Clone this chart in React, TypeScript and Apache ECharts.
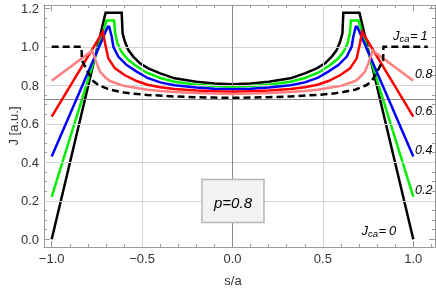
import React, { useEffect, useRef } from 'react';
import * as echarts from 'echarts';

// ---- axis ranges & ticks ----
const X_MIN = -1.0426;
const X_MAX = 1.12;
const Y_MIN = -0.04;
const Y_MAX = 1.217;
const xMajor = [-1.0, -0.5, 0.0, 0.5, 1.0];
const xMinor = [-0.9, -0.8, -0.7, -0.6, -0.4, -0.3, -0.2, -0.1, 0.1, 0.2, 0.3, 0.4, 0.6, 0.7, 0.8, 0.9, 1.1];
const yMajor = [0.0, 0.2, 0.4, 0.6, 0.8, 1.0, 1.2];
const yMinor = [0.05, 0.1, 0.15, 0.25, 0.3, 0.35, 0.45, 0.5, 0.55, 0.65, 0.7, 0.75, 0.85, 0.9, 0.95, 1.05, 1.1, 1.15];
const gridXs = [-0.5, 0.5];
const gridYs = [0.2, 0.4, 0.6, 0.8, 1.0];
const axisOriginX = 0.0;
const axisOriginY = 0.732;

// ---- curves: [s/a, J] ----
const curveJca0 = [
  [-1.0, 0.0], [-0.702, 1.177], [-0.613, 1.177], [-0.608, 1.07], [-0.595, 1.026], [-0.576, 0.983],
  [-0.549, 0.949], [-0.512, 0.914], [-0.466, 0.888], [-0.4, 0.862], [-0.32, 0.836], [-0.2, 0.818],
  [-0.1, 0.809], [0.0, 0.805], [0.1, 0.809], [0.2, 0.818], [0.32, 0.836], [0.4, 0.862], [0.466, 0.888],
  [0.512, 0.914], [0.549, 0.949], [0.576, 0.983], [0.595, 1.026], [0.608, 1.07], [0.613, 1.177],
  [0.702, 1.177], [1.0, 0.0],
];
const curveJca02 = [
  [-1.0, 0.221], [-0.697, 1.136], [-0.655, 1.136], [-0.649, 1.07], [-0.637, 1.02], [-0.615, 0.975],
  [-0.58, 0.935], [-0.54, 0.905], [-0.48, 0.868], [-0.4, 0.838], [-0.32, 0.818], [-0.2, 0.803],
  [-0.1, 0.796], [0.0, 0.793], [0.1, 0.796], [0.2, 0.803], [0.32, 0.818], [0.4, 0.838], [0.48, 0.868],
  [0.54, 0.905], [0.58, 0.935], [0.615, 0.975], [0.637, 1.02], [0.649, 1.07], [0.655, 1.136],
  [0.697, 1.136], [1.0, 0.221],
];
const curveJca04 = [
  [-1.0, 0.43], [-0.69, 1.104], [-0.682, 1.104], [-0.668, 1.052], [-0.659, 1.0], [-0.632, 0.949],
  [-0.585, 0.905], [-0.53, 0.871], [-0.47, 0.838], [-0.4, 0.815], [-0.32, 0.8], [-0.2, 0.788],
  [-0.1, 0.782], [0.0, 0.78], [0.1, 0.782], [0.2, 0.788], [0.32, 0.8], [0.4, 0.815], [0.47, 0.838],
  [0.53, 0.871], [0.585, 0.905], [0.632, 0.949], [0.659, 1.0], [0.668, 1.052], [0.682, 1.104],
  [0.69, 1.104], [1.0, 0.43],
];
const curveJca06 = [
  [-1.0, 0.637], [-0.717, 1.078], [-0.705, 1.018], [-0.687, 0.94], [-0.65, 0.888], [-0.595, 0.852],
  [-0.53, 0.822], [-0.47, 0.803], [-0.4, 0.79], [-0.32, 0.781], [-0.2, 0.773], [-0.1, 0.769],
  [0.0, 0.767], [0.1, 0.769], [0.2, 0.773], [0.32, 0.781], [0.4, 0.79], [0.47, 0.803], [0.53, 0.822],
  [0.595, 0.852], [0.65, 0.888], [0.687, 0.94], [0.705, 1.018], [0.717, 1.078], [1.0, 0.637],
];
const curveJca08 = [
  [-1.0, 0.824], [-0.776, 0.98], [-0.751, 0.914], [-0.733, 0.871], [-0.7, 0.838], [-0.678, 0.822],
  [-0.6, 0.797], [-0.53, 0.786], [-0.47, 0.777], [-0.4, 0.77], [-0.32, 0.765], [-0.2, 0.76],
  [-0.1, 0.757], [0.0, 0.755], [0.1, 0.757], [0.2, 0.76], [0.32, 0.765], [0.4, 0.77], [0.47, 0.777],
  [0.53, 0.786], [0.6, 0.797], [0.678, 0.822], [0.7, 0.838], [0.733, 0.871], [0.751, 0.914],
  [0.776, 0.98], [1.0, 0.824],
];
const curveJca1 = [
  [-1.0, 1.0], [-0.835, 1.0], [-0.833, 0.93], [-0.8, 0.87], [-0.77, 0.822], [-0.74, 0.8],
  [-0.7, 0.785], [-0.678, 0.777], [-0.6, 0.763], [-0.567, 0.758], [-0.47, 0.75], [-0.32, 0.742],
  [-0.2, 0.738], [-0.1, 0.736], [0.0, 0.735], [0.1, 0.736], [0.2, 0.738], [0.32, 0.742], [0.47, 0.75],
  [0.567, 0.758], [0.6, 0.763], [0.678, 0.777], [0.7, 0.785], [0.74, 0.8], [0.77, 0.822], [0.8, 0.87],
  [0.833, 0.93], [0.835, 1.0], [1.08, 1.0],
];

const seriesNames = ['Jca=0', 'Jca=0.2', 'Jca=0.4', 'Jca=0.6', 'Jca=0.8', 'Jca=1'];
const seriesData = [curveJca0, curveJca02, curveJca04, curveJca06, curveJca08, curveJca1];
const seriesColors = ['#000000', '#00ee00', '#0000ff', '#ff0000', '#ff8080', '#000000'];
const seriesDash: any[] = ['solid', 'solid', 'solid', 'solid', 'solid', [7, 4]];
const rightLabels = ['0.8', '0.6', '0.4', '0.2'];
const boxText = 'p=0.8';

const FONT = '"Liberation Sans", Arial, Helvetica, sans-serif';
const FRAME = '#9a9a9a';
const LABEL = '#333333';

function fmt(v: number) {
  const s = Math.abs(v).toFixed(1);
  return v < -1e-9 ? '\u2212' + s : s;
}

function axisCommon(extra: any) {
  return {
    type: 'value',
    axisLine: { show: false, onZero: false, lineStyle: { color: FRAME, width: 1 } },
    axisTick: { show: true, inside: true, lineStyle: { color: FRAME, width: 1 } },
    axisLabel: { show: false },
    splitLine: { show: false },
    ...extra,
  };
}

export default function App() {
  const ref = useRef<HTMLDivElement>(null);
  useEffect(() => {
    if (!ref.current) return;
    const chart = echarts.init(ref.current, undefined, { renderer: 'svg' });
    const xBase = { min: X_MIN, max: X_MAX };
    const yBase = { min: Y_MIN, max: Y_MAX };
    const labelStyle = { color: LABEL, fontSize: 13, fontFamily: FONT };

    const xAxes = [
      axisCommon({
        ...xBase, position: 'bottom',
        axisLine: { show: true, onZero: false, lineStyle: { color: FRAME, width: 1 } },
        axisTick: { show: true, inside: true, length: 6, customValues: xMajor, lineStyle: { color: FRAME } },
        axisLabel: { show: true, customValues: xMajor, formatter: fmt, margin: 5, ...labelStyle },
      }),
      axisCommon({ ...xBase, position: 'bottom', axisTick: { show: true, inside: true, length: 3, customValues: xMinor, lineStyle: { color: FRAME } } }),
      axisCommon({
        ...xBase, position: 'top',
        axisLine: { show: true, onZero: false, lineStyle: { color: FRAME, width: 1 } },
        axisTick: { show: true, inside: true, length: 6, customValues: xMajor, lineStyle: { color: FRAME } },
      }),
      axisCommon({ ...xBase, position: 'top', axisTick: { show: true, inside: true, length: 3, customValues: xMinor, lineStyle: { color: FRAME } } }),
    ];
    const yAxes = [
      axisCommon({
        ...yBase, position: 'left',
        axisLine: { show: true, onZero: false, lineStyle: { color: FRAME, width: 1 } },
        axisTick: { show: true, inside: true, length: 6, customValues: yMajor, lineStyle: { color: FRAME } },
        axisLabel: { show: true, customValues: yMajor, formatter: fmt, margin: 5, ...labelStyle },
      }),
      axisCommon({ ...yBase, position: 'left', axisTick: { show: true, inside: true, length: 3, customValues: yMinor, lineStyle: { color: FRAME } } }),
      axisCommon({
        ...yBase, position: 'right',
        axisLine: { show: true, onZero: false, lineStyle: { color: FRAME, width: 1 } },
        axisTick: { show: true, inside: true, length: 6, customValues: yMajor, lineStyle: { color: FRAME } },
      }),
      axisCommon({ ...yBase, position: 'right', axisTick: { show: true, inside: true, length: 3, customValues: yMinor, lineStyle: { color: FRAME } } }),
    ];

    const gridMarks: any[] = [
      ...gridXs.map((v) => ({ xAxis: v, lineStyle: { color: '#d4d4d4', width: 1, type: 'solid' } })),
      ...gridYs.map((v) => ({ yAxis: v, lineStyle: { color: '#d4d4d4', width: 1, type: 'solid' } })),
      { xAxis: axisOriginX, lineStyle: { color: '#8a8a8a', width: 1, type: 'solid' } },
      { yAxis: axisOriginY, lineStyle: { color: '#8a8a8a', width: 1, type: 'solid' } },
    ];

    const series: any[] = [
      {
        type: 'line', name: 'grid', data: [[axisOriginX, axisOriginY]], symbol: 'none', z: 1,
        lineStyle: { width: 0, opacity: 0 }, silent: true,
        markLine: { silent: true, symbol: ['none', 'none'], label: { show: false }, data: gridMarks, animation: false, emphasis: { disabled: true } },
      },
      ...seriesData.map((d, i) => ({
        type: 'line', name: seriesNames[i], data: d, symbol: 'none', showSymbol: false, z: 3 + i,
        lineStyle: { color: seriesColors[i], width: 2.5, type: seriesDash[i], join: 'miter' },
        silent: true,
      })),
    ];

    const italic = { fontFamily: FONT, fontStyle: 'italic', fill: '#000' };
    const jcaLabel = (x: number, y: number, val: string) => ([
      { type: 'text', x, y, style: { ...italic, text: 'J', fontSize: 13, verticalAlign: 'middle', align: 'left' } },
      { type: 'text', x: x + 6.5, y: y + 3.5, style: { ...italic, text: 'ca', fontSize: 9.5, verticalAlign: 'middle', align: 'left' } },
      { type: 'text', x: x + 17, y, style: { ...italic, text: '=', fontSize: 13, verticalAlign: 'middle', align: 'left' } },
      { type: 'text', x: x + 27.5, y, style: { ...italic, text: val, fontSize: 13, verticalAlign: 'middle', align: 'left' } },
    ]);
    const rightYs = [73.5, 110.5, 149.5, 189.5];

    const graphic: any[] = [
      ...jcaLabel(393, 35, '1'),
      ...jcaLabel(361.5, 230, '0'),
      ...rightLabels.map((t, i) => ({ type: 'text', x: 415, y: rightYs[i], style: { ...italic, text: t, fontSize: 12.5, verticalAlign: 'middle', align: 'left' } })),
      { type: 'rect', shape: { x: 202, y: 179.5, width: 62, height: 43 }, style: { fill: '#f3f3f3', stroke: '#b8b8b8', lineWidth: 1.5 }, z: 10 },
      { type: 'text', x: 233, y: 202, z: 11, style: { ...italic, text: boxText, fontSize: 15, align: 'center', verticalAlign: 'middle' } },
      { type: 'text', x: 233, y: 280, style: { text: 's/a', fontFamily: FONT, fontSize: 13, fill: LABEL, align: 'center', verticalAlign: 'middle' } },
      { type: 'text', x: 13, y: 126, rotation: Math.PI / 2, style: { text: 'J [a.u.]', fontFamily: FONT, fontSize: 13, fill: LABEL, align: 'center', verticalAlign: 'middle' } },
    ];

    chart.setOption({
      animation: false,
      grid: { left: 44, right: 1, top: 5, bottom: 41, outerBoundsMode: 'none' },
      xAxis: xAxes,
      yAxis: yAxes,
      series,
      graphic,
    });
    return () => chart.dispose();
  }, []);
  return <div ref={ref} style={{ position: 'fixed', left: 0, top: 0, width: 436, height: 288 }} />;
}
